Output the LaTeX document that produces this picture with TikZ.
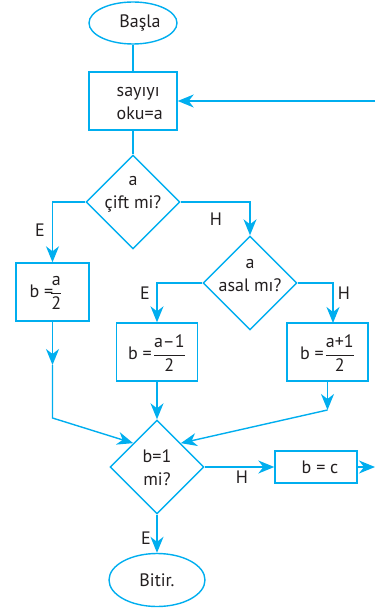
\documentclass[tikz,border=0pt]{standalone}
\usepackage{fontspec}
\setmainfont{PT Sans}
\usetikzlibrary{arrows.meta,shapes.geometric}
\definecolor{fc}{RGB}{0,174,239}
\definecolor{tc}{RGB}{35,31,32}
\begin{document}
\begin{tikzpicture}[x=1pt,y=-1pt,
  line width=1.4pt,
  every node/.style={font=\fontsize{18}{23}\selectfont, text=tc},
  term/.style={draw=fc, ellipse, inner sep=0pt},
  proc/.style={draw=fc, rectangle, inner sep=0pt},
  dec/.style={draw=fc, diamond, minimum width=94pt, minimum height=94pt, inner sep=0pt},
  txt/.style={inner sep=0pt, align=center},
  lbl/.style={inner sep=0pt},
  flow/.style={draw=fc, -{Stealth[length=16pt,width=13pt,inset=5pt]}},
  con/.style={draw=fc}
]
\useasboundingbox (0,0) rectangle (375,612);

% nodes
\node[term, minimum width=88pt, minimum height=42pt] (start) at (133,23) {};
\node[txt] (startt) at (140,23) {Başla};
\node[proc, minimum width=88pt, minimum height=58pt] (read) at (133,101) {};
\node[txt, anchor=west, align=left] (readt) at (116,104) {sayıyı\\oku=a};

\node[dec] (d1) at (133,202) {};
\node[txt] (d1t) at (133,194) {a\\çift mi?};

\node[proc, minimum width=73pt, minimum height=58pt] (bA) at (52.5,292) {};
\node[txt] (bAt) at (46,293) {b =\kern-3pt$\displaystyle\frac{\hbox{a}}{\hbox{2}}$};

\node[dec] (d2) at (250,283) {};
\node[txt] (d2t) at (250,276) {a\\asal mı?};

\node[proc, minimum width=81pt, minimum height=58pt] (bm) at (157,352) {};
\node[txt] (bmt) at (157,353) {b =\kern1pt$\displaystyle\frac{\hbox{a–1}}{\hbox{2}}$};

\node[proc, minimum width=81pt, minimum height=58pt] (bp) at (327.5,352) {};
\node[txt] (bpt) at (327.5,353) {b =\kern1pt$\displaystyle\frac{\hbox{a+1}}{\hbox{2}}$};

\node[dec] (d3) at (157,467) {};
\node[txt] (d3t) at (157,468) {b=1\\mi?};

\node[proc, minimum width=82pt, minimum height=32pt] (bc) at (316,467) {};
\node[txt] (bct) at (320,467) {b = c};

\node[term, minimum width=96pt, minimum height=53pt] (stop) at (157,580) {};
\node[txt] (stopt) at (157,580) {Bitir.};

% helper coordinates
\coordinate (inR) at (375,101);
\coordinate (bpin) at (333,323);
\coordinate (m1) at (52.5,365);
\coordinate (k1) at (52.5,418);
\coordinate (m2) at (327.5,410);
\coordinate (outR) at (375,467);

% connectors
\draw[con] (start) -- (read);
\draw[con] (read) -- (d1);
\draw[flow] (inR) -- (read.east);
\draw[flow] (d1.west) -| (bA.north);
\draw[flow] (d1.east) -| (d2.north);
\draw[flow] (d2.west) -| (bm.north);
\draw[flow] (d2.east) -| (bpin);
\draw[flow] (bA.south) -- (m1);
\draw[flow] (m1) -- (k1) -- (d3.north west);
\draw[flow] (bm.south) -- (d3.north);
\draw[flow] (bp.south) -- (m2);
\draw[flow] (m2) -- (d3.north east);
\draw[flow] (d3.east) -- (bc.west);
\draw[flow] (bc.east) -- (outR);
\draw[flow] (d3.south) -- (stop.north);

% labels
\node[lbl] (lE1) at (40,230) {E};
\node[lbl] (lH1) at (216,219) {H};
\node[lbl] (lE2) at (145,293) {E};
\node[lbl] (lH2) at (344,293) {H};
\node[lbl] (lH3) at (242,477) {H};
\node[lbl] (lE3) at (146,538) {E};
\end{tikzpicture}
\end{document}
